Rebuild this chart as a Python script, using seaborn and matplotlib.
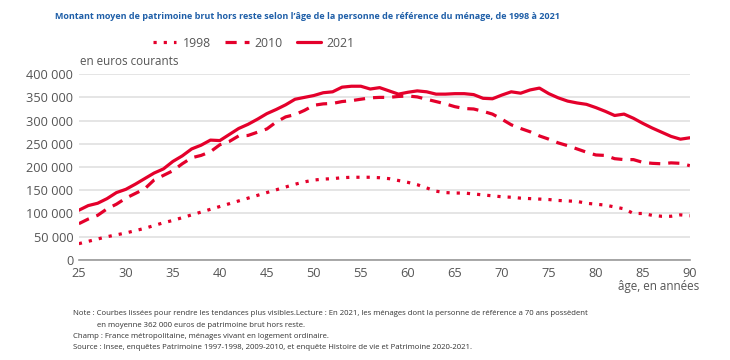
import matplotlib
matplotlib.use('Agg')
import matplotlib.pyplot as plt
import matplotlib.ticker as mticker
import seaborn as sns
import numpy as np
import pandas as pd

# ages 25..90
ages = list(range(25, 91))

# 2021 (solid)
v2021 = [107000, 117000, 122000, 132000, 145000, 152000, 163000, 175000, 187000, 196000,
         212000, 224000, 239000, 247000, 258000, 257000, 270000, 283000, 292000, 303000,
         315000, 324000, 334000, 346000, 350000, 354000, 360000, 362000, 372000, 374000,
         374000, 368000, 371000, 364000, 357000, 361000, 364000, 362000, 357000, 357000,
         358000, 358000, 356000, 348000, 347000, 355000, 362000, 359000, 366000, 370000,
         358000, 349000, 342000, 338000, 335000, 328000, 320000, 311000, 314000, 305000,
         294000, 284000, 275000, 266000, 260000, 263000]

# 2010 (dashed)
v2010 = [78000, 88000, 96000, 110000, 120000, 133000, 143000, 153000, 172000, 182000,
         192000, 207000, 220000, 225000, 233000, 248000, 255000, 267000, 268000, 275000,
         282000, 297000, 308000, 313000, 322000, 333000, 336000, 337000, 341000, 343000,
         346000, 349000, 350000, 350000, 352000, 353000, 351000, 346000, 341000, 336000,
         330000, 326000, 325000, 320000, 314000, 303000, 291000, 283000, 276000, 267000,
         260000, 252000, 246000, 239000, 232000, 226000, 225000, 218000, 216000, 216000,
         210000, 208000, 207000, 209000, 208000, 203000]

# 1998 (dotted)
v1998 = [35000, 40000, 45000, 50000, 54000, 58000, 63000, 68000, 74000, 80000,
         85000, 91000, 97000, 103000, 109000, 115000, 121000, 127000, 133000, 139000,
         145000, 151000, 157000, 163000, 168000, 172000, 174000, 175000, 177000, 178000,
         178000, 178000, 177000, 175000, 171000, 167000, 162000, 155000, 148000, 145000,
         144000, 144000, 142000, 140000, 138000, 136000, 135000, 133000, 132000, 131000,
         130000, 128000, 127000, 126000, 122000, 120000, 118000, 114000, 110000, 100000,
         100000, 96000, 94000, 94000, 97000, 95000]

series_names = ['1998', '2010', '2021']
series_vals = [v1998, v2010, v2021]
styles = {'1998': (0, (1, 2.2)), '2010': (0, (3.5, 2.5)), '2021': '-'}

red = '#e4002b'
grey_txt = '#555555'

df = pd.concat([pd.DataFrame({'age': ages, 'val': v, 'year': n})
                for n, v in zip(series_names, series_vals)])

sns.set_theme(style='white')
plt.rcParams['font.family'] = ['Open Sans', 'DejaVu Sans']

fig = plt.figure(figsize=(7.3, 3.6), dpi=100)
ax = fig.add_axes([0.108, 0.278, 0.837, 0.516])

handles = []
for n in series_names:
    sub = df[df['year'] == n]
    sns.lineplot(data=sub, x='age', y='val', ax=ax, color=red, linewidth=2.3,
                 linestyle=styles[n], label=n, legend=False)
    handles.append(ax.lines[-1])

ax.set_xlim(25, 90)
ax.set_ylim(0, 400000)
ax.set_xticks(range(25, 91, 5))
ax.set_yticks(range(0, 400001, 50000))
ax.yaxis.set_major_formatter(mticker.FuncFormatter(lambda v, p: f"{int(v):,}".replace(',', ' ')))
ax.grid(axis='y', color='#e3e3e3', linewidth=1.3)
ax.set_axisbelow(True)
for s in ['top', 'right', 'left']:
    ax.spines[s].set_visible(False)
ax.spines['bottom'].set_color('#9a9a9a')
ax.spines['bottom'].set_linewidth(1.2)
ax.tick_params(axis='both', colors=grey_txt, labelsize=9.2, length=0)
ax.tick_params(axis='y', pad=4)
ax.tick_params(axis='x', pad=5)
ax.set_xlabel('')
ax.set_ylabel('')

fig.text(0.075, 0.953, "Montant moyen de patrimoine brut hors reste selon l’âge de la personne de référence du ménage, de 1998 à 2021",
         color='#1f5fa8', fontsize=6.5, fontweight='bold', ha='left', va='center')
fig.text(0.109, 0.828, 'en euros courants', color=grey_txt, fontsize=8.4, ha='left', va='center')
fig.text(0.958, 0.203, 'âge, en années', color=grey_txt, fontsize=8.4, ha='right', va='center')

leg = fig.legend(handles=handles, labels=series_names, loc='center', bbox_to_anchor=(0.348, 0.88),
                 ncol=3, frameon=False, fontsize=8.8, handlelength=1.9, columnspacing=1.2,
                 handletextpad=0.5)
for t in leg.get_texts():
    t.set_color(grey_txt)

notes = [
    (0.100, 0.128, "Note : Courbes lissées pour rendre les tendances plus visibles.Lecture : En 2021, les ménages dont la personne de référence a 70 ans possèdent"),
    (0.133, 0.097, "en moyenne 362 000 euros de patrimoine brut hors reste."),
    (0.100, 0.066, "Champ : France métropolitaine, ménages vivant en logement ordinaire."),
    (0.100, 0.035, "Source : Insee, enquêtes Patrimoine 1997-1998, 2009-2010, et enquête Histoire de vie et Patrimoine 2020-2021."),
]
for x, y, t in notes:
    fig.text(x, y, t, fontsize=5.6, color='#333333', ha='left', va='center')

fig.savefig('out.png', dpi=100)
